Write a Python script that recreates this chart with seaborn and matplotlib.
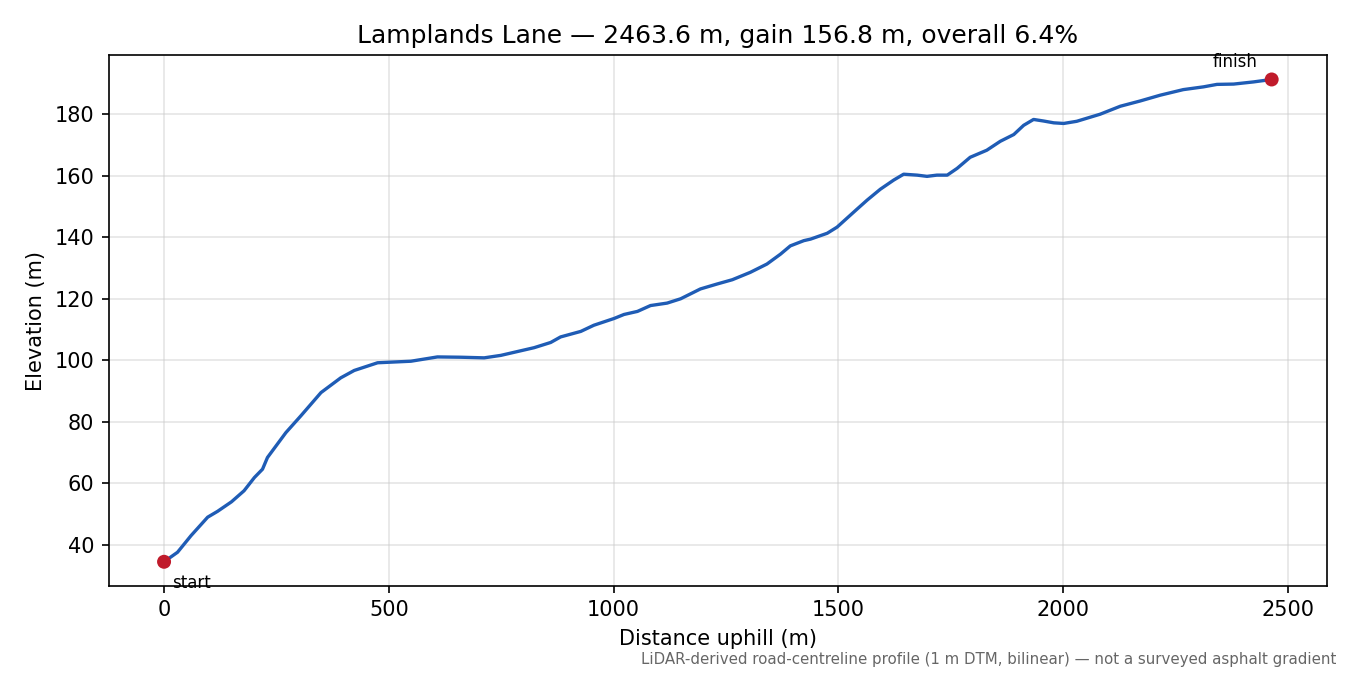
import seaborn as sns
import matplotlib.pyplot as plt
import pandas as pd

# Profil wysokości
distance_m = [0, 30, 60, 97, 119, 150, 178, 201, 219, 230, 271, 304, 349, 393, 423,
              475, 549, 608, 660, 712, 749, 823, 860, 882, 927, 956, 1001, 1023, 1053,
              1082, 1119, 1149, 1193, 1230, 1264, 1304, 1341, 1371, 1393, 1423, 1438,
              1475, 1497, 1541, 1564, 1593, 1623, 1645, 1675, 1697, 1719, 1742, 1764,
              1793, 1830, 1860, 1890, 1912, 1934, 1956, 1979, 2001, 2030, 2082, 2127,
              2171, 2216, 2267, 2312, 2342, 2379, 2423, 2463.6]
elevation_m = [34.5, 37.6, 43.0, 49.0, 50.9, 54.0, 57.6, 61.9, 64.6, 68.4, 76.5, 81.9,
               89.5, 94.3, 96.7, 99.2, 99.7, 101.1, 101.0, 100.8, 101.6, 104.1, 105.8,
               107.6, 109.4, 111.4, 113.6, 114.9, 115.9, 117.8, 118.6, 120.0, 123.2,
               124.8, 126.2, 128.6, 131.3, 134.5, 137.2, 138.9, 139.4, 141.3, 143.3,
               149.1, 152.1, 155.6, 158.6, 160.5, 160.2, 159.8, 160.2, 160.2, 162.4,
               166.0, 168.3, 171.2, 173.4, 176.4, 178.3, 177.8, 177.2, 177.0, 177.7,
               180.0, 182.6, 184.3, 186.2, 188.0, 188.9, 189.7, 189.8, 190.5, 191.3]

road_name = "Lamplands Lane"
total_length = 2463.6
total_gain = 156.8
overall_grade = 6.4

profile = pd.DataFrame({"distance": distance_m, "elevation": elevation_m})
ends = profile.iloc[[0, -1]]

fig, ax = plt.subplots(figsize=(9, 4.5), dpi=150)
fig.subplots_adjust(left=0.0805, right=0.983, top=0.918, bottom=0.132)

sns.lineplot(data=profile, x="distance", y="elevation", ax=ax,
             color="#1f5cb5", linewidth=1.6)
sns.scatterplot(data=ends, x="distance", y="elevation", ax=ax,
                color="#c01b2b", s=45, edgecolor="none", zorder=3)

ax.annotate("start", (ends.distance.iloc[0], ends.elevation.iloc[0]),
            xytext=(4, -6), textcoords="offset points", ha="left", va="top",
            fontsize=8)
ax.annotate("finish", (ends.distance.iloc[1], ends.elevation.iloc[1]),
            xytext=(-7, 4), textcoords="offset points", ha="right", va="bottom",
            fontsize=8)

ax.grid(True, color="#cccccc", alpha=0.5, linewidth=0.8)
ax.set_axisbelow(True)
ax.set_xlabel("Distance uphill (m)")
ax.set_ylabel("Elevation (m)")
ax.set_title(f"{road_name} — {total_length:.1f} m, gain {total_gain:.1f} m, "
             f"overall {overall_grade:.1f}%", fontsize=12)

fig.text(0.99, 0.012,
         "LiDAR-derived road-centreline profile (1 m DTM, bilinear) — not a surveyed asphalt gradient",
         ha="right", va="bottom", fontsize=7.2, color="#666666")

fig.savefig("out.png", dpi=150)
